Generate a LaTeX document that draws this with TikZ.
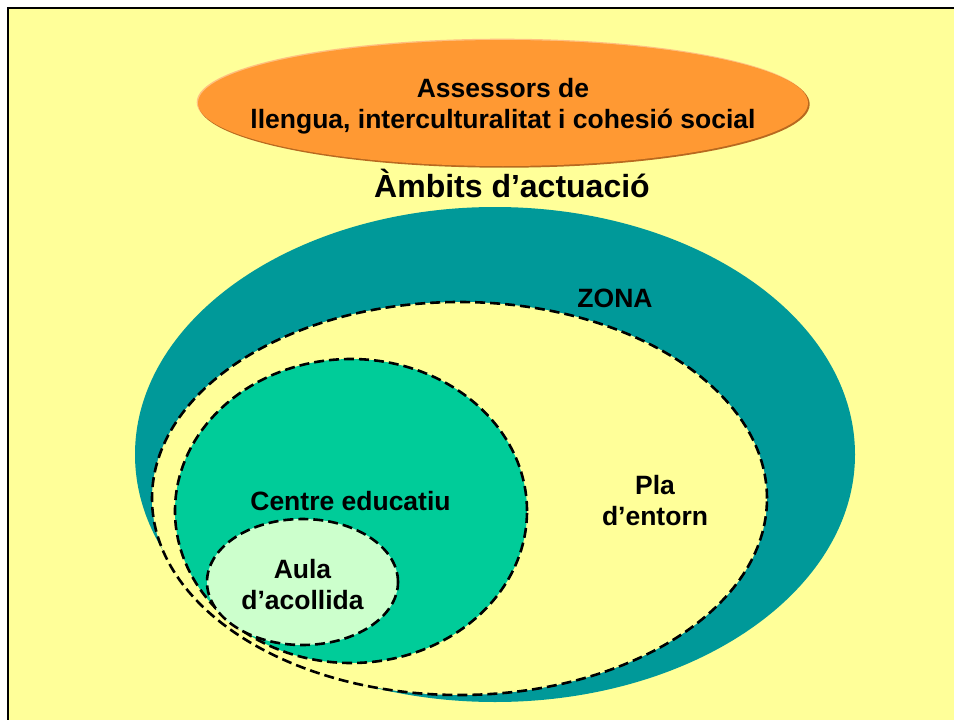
\documentclass[tikz,border=0pt]{standalone}
\usepackage{fontspec}
\setmainfont{Liberation Sans}
\usetikzlibrary{shapes.geometric}
\definecolor{bg}{HTML}{FFFF99}
\definecolor{zonacol}{HTML}{009999}
\definecolor{centrecol}{HTML}{00CC99}
\definecolor{aulacol}{HTML}{CCFFCC}
\definecolor{orng}{HTML}{FF9933}
\definecolor{orngedge}{HTML}{B8691F}
\definecolor{ornglight}{HTML}{FFC080}
\begin{document}
\begin{tikzpicture}[x=1pt,y=-1pt,
  region/.style={ellipse, inner sep=0pt, outer sep=0pt},
  dashedge/.style={draw=black, line width=2.6pt, dash pattern=on 10pt off 5pt},
  lbl/.style={font=\fontsize{26.5}{31}\selectfont\bfseries, align=center, inner sep=0pt},
  title/.style={font=\fontsize{32}{38}\selectfont\bfseries, inner sep=0pt}]
\path[use as bounding box, fill=white] (0,0) rectangle (954,720);
\fill[bg] (8,8) rectangle (960,730);
\draw[line width=2.5pt] (8,730) -- (8,8) -- (960,8);
\fill[bg] (940,12) rectangle (960,730);
% top ellipse
\node[region, fill=ornglight, minimum width=611, minimum height=127] (asslight) at (502.2,102.2) {};
\node[region, fill=orngedge, minimum width=611, minimum height=127] (assshadow) at (504.2,104.2) {};
\node[region, fill=orng, minimum width=610, minimum height=126] (ass) at (503,103) {};
\node[lbl] (asstext) at (503,106) {Assessors de\\llengua, interculturalitat i cohesió social};
\node[title, anchor=base] (ambits) at (512,197) {Àmbits d’actuació};
% zona
\node[region, fill=zonacol, minimum width=720, minimum height=495] (zona) at (495,454.5) {};
\node[lbl, anchor=base] (zonatext) at (615,307) {ZONA};
% pla d'entorn
\node[region, fill=bg, dashedge, minimum width=615, minimum height=393] (pla) at (459.5,498.5) {};
\node[lbl] (platext) at (655,501) {Pla\\d’entorn};
% centre educatiu
\node[region, fill=centrecol, dashedge, minimum width=352, minimum height=304] (centre) at (351,511) {};
\node[lbl, anchor=base] (centretext) at (350.5,510) {Centre educatiu};
% aula d'acollida
\node[region, fill=aulacol, dashedge, minimum width=191, minimum height=126] (aula) at (302.5,582) {};
\node[lbl] (aulatext) at (302.5,584.5) {Aula\\d’acollida};
\end{tikzpicture}
\end{document}
